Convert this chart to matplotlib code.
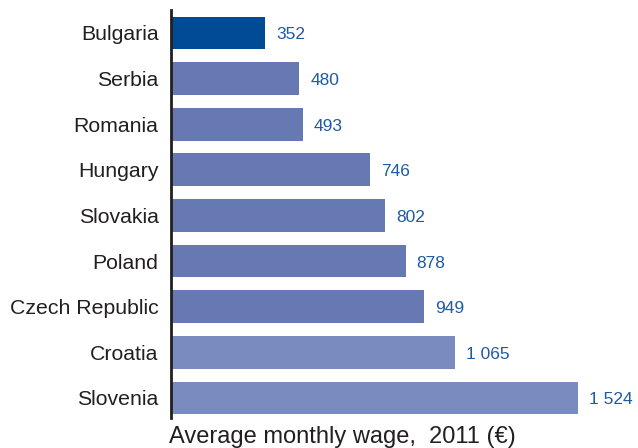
import matplotlib.pyplot as plt
import matplotlib.transforms as mtransforms

plt.rcParams['font.family'] = ['Liberation Sans', 'DejaVu Sans']

# --- Data ---
countries = ['Bulgaria', 'Serbia', 'Romania', 'Hungary', 'Slovakia',
             'Poland', 'Czech Republic', 'Croatia', 'Slovenia']
wages = [352, 480, 493, 746, 802, 878, 949, 1065, 1524]
bar_colors = ['#004B93'] + ['#6679B2'] * 6 + ['#7A8CBF'] * 2

text_dark = '#231F20'
value_blue = '#1F5AA3'

fig = plt.figure(figsize=(6.38, 4.48), dpi=100)
ax = fig.add_axes([171 / 638, 30 / 448, 467 / 638, 408 / 448])

y = list(range(len(countries)))
ax.barh(y, wages, height=0.72, color=bar_colors)

ax.set_xlim(0, 467 / 0.2671)
ax.set_ylim(8.44, -0.504)

ax.set_yticks(y)
ax.set_yticklabels(countries, fontsize=15.3, color=text_dark)
ax.tick_params(axis='y', length=0, pad=9)
ax.set_xticks([])

for s in ['top', 'right', 'bottom']:
    ax.spines[s].set_visible(False)
ax.spines['left'].set_color(text_dark)
ax.spines['left'].set_linewidth(2)

# value labels, thousands separated by a space
offset = mtransforms.offset_copy(ax.transData, fig=fig, x=11, y=-2, units='dots')
for yi, v in zip(y, wages):
    label = f'{v:,}'.replace(',', ' ')
    ax.text(v, yi, label, transform=offset, va='center', ha='left',
            fontsize=12.5, color=value_blue, clip_on=False)

fig.text(169 / 638, 1 - 437 / 448, 'Average monthly wage,  2011 (€)',
         fontsize=17, color=text_dark, ha='left', va='center')

plt.savefig('out.png', dpi=100)
